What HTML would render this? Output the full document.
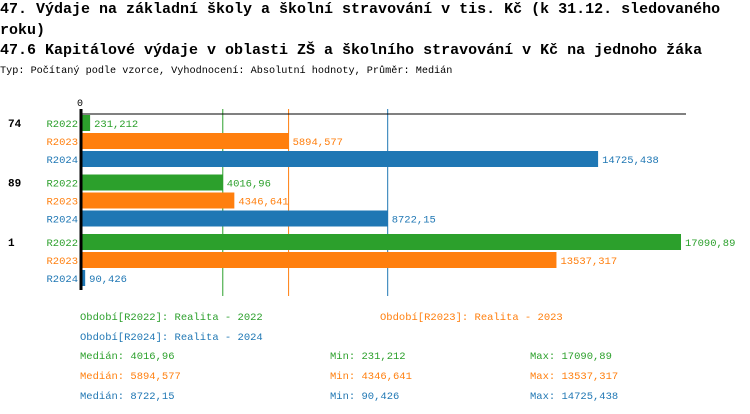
<!DOCTYPE html>
<html><head><meta charset="utf-8">
<style>
body{margin:0;background:#fff;width:750px;height:414px;overflow:hidden;font-family:"Liberation Mono",monospace;}
.t{position:absolute;left:0;font-weight:bold;font-size:15px;white-space:nowrap;color:#000}
</style></head><body>
<div class="t" style="top:1px">47. Výdaje na základní školy a školní stravování v tis. Kč (k 31.12. sledovaného</div>
<div class="t" style="top:22px">roku)</div>
<div class="t" style="top:42px">47.6 Kapitálové výdaje v oblasti ZŠ a školního stravování v Kč na jednoho žáka</div>
<div style="position:absolute;left:0;top:66px;font-size:10.2px;white-space:nowrap">Typ: Počítaný podle vzorce, Vyhodnocení: Absolutní hodnoty, Průměr: Medián</div>
<svg id="c" width="750" height="414" style="position:absolute;left:0;top:0" font-family="Liberation Mono, monospace"></svg>
<script>
const groups=['74','89','1'];
const series=['R2022','R2023','R2024'];
const colors=['#2ca02c','#ff7f0e','#1f77b4'];
const values=[[231.212,5894.577,14725.438],[4016.96,4346.641,8722.15],[17090.89,13537.317,90.426]];
const labels=[['231,212','5894,577','14725,438'],['4016,96','4346,641','8722,15'],['17090,89','13537,317','90,426']];
const medians=[4016.96,5894.577,8722.15];
const medianLabels=['4016,96','5894,577','8722,15'];
const minLabels=['231,212','4346,641','90,426'];
const maxLabels=['17090,89','13537,317','14725,438'];
const legendNames=['Realita - 2022','Realita - 2023','Realita - 2024'];
const svg=document.getElementById('c');const NS='http://www.w3.org/2000/svg';
function mk(t,a,txt){const e=document.createElementNS(NS,t);for(const k in a)e.setAttribute(k,a[k]);if(txt!==undefined)e.textContent=txt;svg.appendChild(e);return e;}
const x0=82,maxV=17090.89,x1=681;
const X=v=>x0+v/maxV*(x1-x0);
const rowY=(g,s)=>115+g*59.5+s*18;
medians.forEach((m,i)=>{const l=mk('line',{x1:X(m),x2:X(m),y1:109,y2:296,stroke:colors[i],'stroke-width':1});
});
let ax=mk('line',{x1:80,x2:686,y1:114,y2:114,stroke:'#000','stroke-width':1});

let zl=mk('text',{x:80,y:106,'font-size':10,'text-anchor':'middle'},'0');

groups.forEach((g,gi)=>{
 let gt=mk('text',{x:8,y:rowY(gi,0)+12,'font-size':11,'font-weight':'bold'},g);
 
 series.forEach((s,si)=>{const y=rowY(gi,si);
  let st=mk('text',{x:78,y:y+12,'font-size':10.5,'text-anchor':'end',fill:colors[si]},s);
  
  let r=mk('rect',{x:x0,y:y,width:Math.max(X(values[gi][si])-x0,1),height:16,fill:colors[si]});
  
  let vt=mk('text',{x:X(values[gi][si])+4,y:y+12,'font-size':10.5,fill:colors[si]},labels[gi][si]);
  
 });
});
let ya=mk('line',{x1:81,x2:81,y1:109,y2:290,stroke:'#000','stroke-width':3});

const legPos=[[80,320],[380,320],[80,340]];
series.forEach((s,i)=>{let t=mk('text',{x:legPos[i][0],y:legPos[i][1],'font-size':10.5,fill:colors[i]},'Období['+s+']: '+legendNames[i]);
 
 const y=359+i*20;
 let a=mk('text',{x:80,y:y,'font-size':10.5,fill:colors[i]},'Medián: '+medianLabels[i]);
 
 let b=mk('text',{x:330,y:y,'font-size':10.5,fill:colors[i]},'Min: '+minLabels[i]);
 
 let c=mk('text',{x:530,y:y,'font-size':10.5,fill:colors[i]},'Max: '+maxLabels[i]);
 
});
</script>
</body></html>
